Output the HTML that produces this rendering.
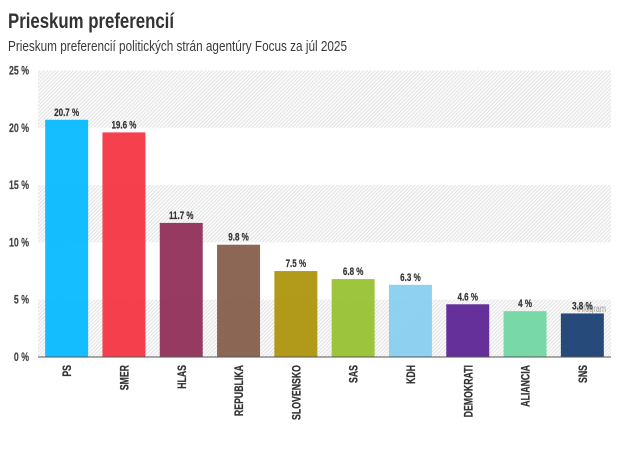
<!DOCTYPE html>
<html lang="sk">
<head>
<meta charset="utf-8">
<title>Prieskum preferencií</title>
<style>
html,body{margin:0;padding:0;background:#fff;width:625px;height:452px;overflow:hidden}
svg{display:block;font-family:"Liberation Sans",sans-serif}
</style>
</head>
<body>
<svg id="chart" width="625" height="452" viewBox="0 0 625 452" xmlns="http://www.w3.org/2000/svg">
  <defs>
    <pattern id="hatch" patternUnits="userSpaceOnUse" width="2.6" height="2.6" patternTransform="rotate(45)">
      <rect width="2.6" height="2.6" fill="#fcfcfc"></rect>
      <rect width="1" height="2.6" fill="#e2e2e2"></rect>
    </pattern>
  </defs>
  <text x="8" y="28" font-size="21" font-weight="700" fill="#333" textLength="166" lengthAdjust="spacingAndGlyphs">Prieskum preferencií</text>
  <text x="8" y="51" font-size="15" fill="#3a3a3a" textLength="339" lengthAdjust="spacingAndGlyphs">Prieskum preferencií politických strán agentúry Focus za júl 2025</text>
  <g id="bands"></g>
  <g id="bars"></g>
  <text x="577" y="312" font-size="10" fill="#999" textLength="29" lengthAdjust="spacingAndGlyphs">Infogram</text>
  <g id="labels"></g>
  <g id="yaxis"></g>
  <g id="xaxis"></g>
</svg>
<script>
const categories = ["PS","SMER","HLAS","REPUBLIKA","SLOVENSKO","SAS","KDH","DEMOKRATI","ALIANCIA","SNS"];
const seriesValues = [20.7,19.6,11.7,9.8,7.5,6.8,6.3,4.6,4,3.8];
const barColors = ["#00b8ff","#f5303f","#8f2a55","#835a47","#ab9208","#95c02c","#85cdf0","#5a1f94","#6fd6a2","#143c70"];
const yTicks = [0,5,10,15,20,25];

const NS = "http://www.w3.org/2000/svg";
const plotLeft = 38, plotRight = 611, plotBottom = 357, plotTop = 70.5, yMax = 25;
function yScale(v){ return plotBottom - (v / yMax) * (plotBottom - plotTop); }
function bandWidth(){ return (plotRight - plotLeft) / categories.length; }
function xCenter(i){ return plotLeft + bandWidth() * (i + 0.5); }
function make(tag, attrs, parent, txt){
  const el = document.createElementNS(NS, tag);
  for (const k in attrs) el.setAttribute(k, attrs[k]);
  if (txt !== undefined) el.textContent = txt;
  parent.appendChild(el);
  return el;
}
const bandsG = document.getElementById("bands");
const barsG = document.getElementById("bars");
const labelsG = document.getElementById("labels");
const yG = document.getElementById("yaxis");
const xG = document.getElementById("xaxis");

for (let i = 0; i + 1 < yTicks.length; i += 2) {
  const top = yScale(yTicks[i + 1]);
  const band = make("rect", {x: plotLeft, y: top, width: plotRight - plotLeft, height: yScale(yTicks[i]) - top, fill: "url(#hatch)"}, bandsG);
  
  
}
yTicks.forEach(function(t){
  const lab = make("text", {transform: "translate(29," + (yScale(t) + 4) + ") scale(.73,1)", "text-anchor": "end", "font-size": 12, "font-weight": 700, fill: "#444", stroke: "#444", "stroke-width": 0.2}, yG, t + " %");
  
  
});
const barW = bandWidth() * 0.75;
categories.forEach(function(c, i){
  const v = seriesValues[i];
  const y = yScale(v);
  const bar = make("rect", {x: xCenter(i) - barW / 2, y: y, width: barW, height: plotBottom - y, fill: barColors[i], "fill-opacity": 0.92}, barsG);
  
  
  const val = make("text", {transform: "translate(" + xCenter(i) + "," + (y - 4) + ") scale(.73,1)", "text-anchor": "middle", "font-size": 11, "font-weight": 700, fill: "#333", stroke: "#333", "stroke-width": 0.2}, labelsG, v + " %");
  
  
  const cat = make("text", {transform: "translate(" + (xCenter(i) + 4.5) + ",365) rotate(-90) scale(.73,1)", "text-anchor": "end", "font-size": 12, "font-weight": 700, fill: "#333", stroke: "#333", "stroke-width": 0.25}, xG, c);
  
  
});
const axisLine = make("line", {x1: plotLeft, x2: plotRight, y1: plotBottom, y2: plotBottom, stroke: "#555", "stroke-width": 1}, xG);


</script>
</body>
</html>
